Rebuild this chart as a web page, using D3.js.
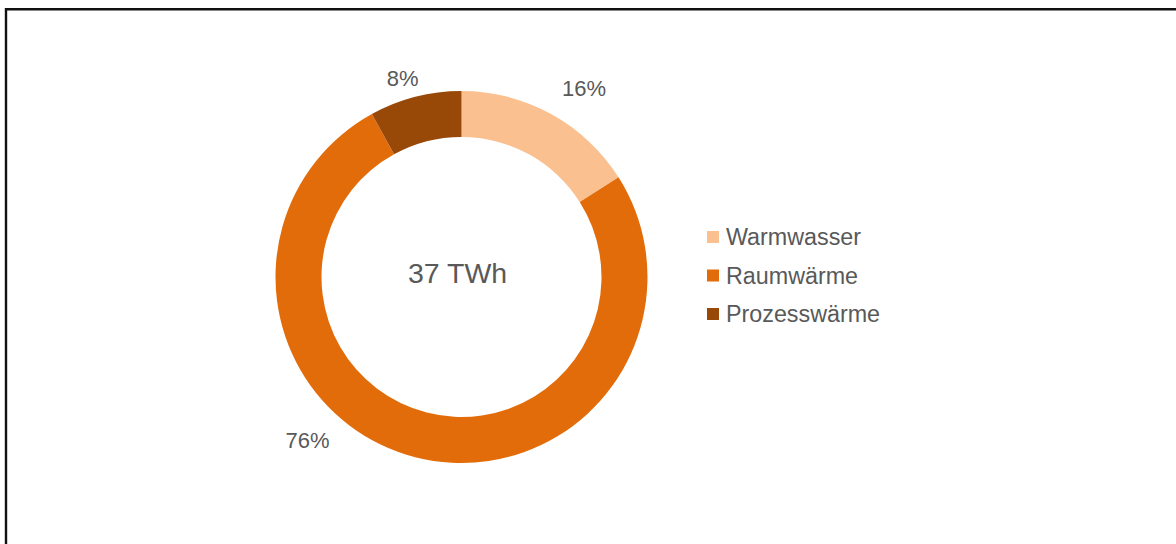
<!DOCTYPE html>
<html>
<head>
<meta charset="utf-8">
<script src="https://cdn.jsdelivr.net/npm/d3@7"></script>
<style>
  html, body { margin: 0; padding: 0; background: #fff; }
  svg { display: block; }
  text { font-family: "Liberation Sans", Arial, sans-serif; fill: #595959; }
</style>
</head>
<body>
<svg id="chart" width="1176" height="544"></svg>
<script>
// Wärmebedarf nach Anwendung
const categories = ["Warmwasser", "Raumwärme", "Prozesswärme"];
const shares = [16, 76, 8];
const colors = ["#FAC090", "#E36C0A", "#984807"];
const totalLabel = "37 TWh";

const svg = d3.select("#chart");

// frame (top and left edges)
svg.append("path")
  .attr("d", "M6,544 V9.2 H1176")
  .attr("fill", "none")
  .attr("stroke", "#111")
  .attr("stroke-width", 2.4);

const cx = 461.5, cy = 277;
const outerR = 186, innerR = 140;

const pie = d3.pie().sort(null).value(d => d.value);
const arcs = pie(categories.map((c, i) => ({ name: c, value: shares[i], color: colors[i] })));
const arc = d3.arc().innerRadius(innerR).outerRadius(outerR);

const g = svg.append("g").attr("transform", `translate(${cx},${cy})`);

g.selectAll("path.slice")
  .data(arcs)
  .join("path")
  .attr("class", "slice")
  .attr("d", arc)
  .attr("fill", d => d.data.color);

// percentage labels placed outside the ring (angle shift in degrees, radius)
const labelPlacement = [
  { shift: 4.2, r: 225 },
  { shift: 29, r: 224 },
  { shift: -2.1, r: 207 }
];
g.selectAll("text.pct")
  .data(arcs)
  .join("text")
  .attr("class", "pct")
  .attr("text-anchor", "middle")
  .attr("font-size", 22)
  .attr("dy", "0.36em")
  .attr("x", (d, i) => {
    const a = (d.startAngle + d.endAngle) / 2 + labelPlacement[i].shift * Math.PI / 180;
    return labelPlacement[i].r * Math.sin(a);
  })
  .attr("y", (d, i) => {
    const a = (d.startAngle + d.endAngle) / 2 + labelPlacement[i].shift * Math.PI / 180;
    return -labelPlacement[i].r * Math.cos(a);
  })
  .text(d => d.data.value + "%");

// total in the middle of the ring
g.append("text")
  .attr("text-anchor", "middle")
  .attr("x", -4)
  .attr("y", 6)
  .attr("font-size", 28.5)
  .text(totalLabel);

// legend
const legend = svg.append("g").attr("transform", "translate(707,237)");
const item = legend.selectAll("g")
  .data(categories)
  .join("g")
  .attr("transform", (d, i) => `translate(0,${i * 38.5})`);
item.append("rect")
  .attr("x", 0).attr("y", -6)
  .attr("width", 12).attr("height", 12)
  .attr("fill", (d, i) => colors[i]);
item.append("text")
  .attr("x", 19)
  .attr("y", 8)
  .attr("font-size", 23.3)
  .text(d => d);
</script>
</body>
</html>
